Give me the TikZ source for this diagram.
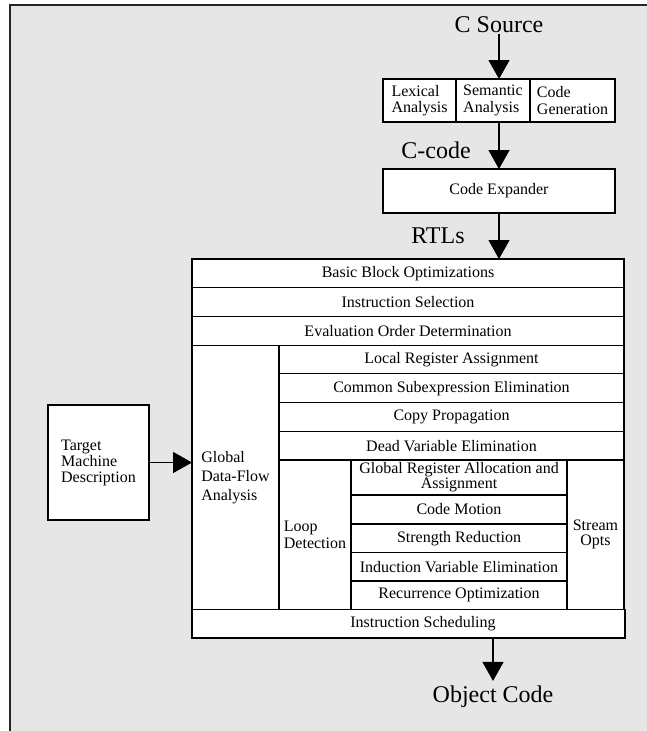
\documentclass[tikz,border=0pt]{standalone}
\usepackage{fontspec}
\setmainfont{Liberation Serif}
\usetikzlibrary{arrows.meta}
\definecolor{bggray}{RGB}{230,230,230}
\tikzset{
  cell/.style={draw=black, fill=white, line width=1.1pt, inner sep=0pt, outer sep=0pt,
    font=\fontsize{16}{17}\selectfont, align=center},
  bigtext/.style={font=\fontsize{24}{24}\selectfont, inner sep=1pt},
  arr/.style={-{Triangle[length=19pt,width=21pt]}, line width=1.4pt},
}
\begin{document}
\begin{tikzpicture}[x=1pt,y=-1pt]
\useasboundingbox (0,0) rectangle (647,731);
% frame
\fill[bggray] (10,5) rectangle (647,731);
\draw[line width=1.4pt, black!85] (647,5) -- (10,5) -- (10,731);

% front end
\node[cell, minimum width=73pt, minimum height=43pt, align=left, font=\fontsize{16}{16.5}\selectfont] (lex) at (419.5,100.5) {Lexical\\Analysis};
\node[cell, minimum width=74pt, minimum height=43pt, align=left, font=\fontsize{16}{16.5}\selectfont] (sem) at (493,100.5) {Semantic\\Analysis};
\node[cell, minimum width=85pt, minimum height=43pt, align=left, font=\fontsize{16}{16.5}\selectfont] (gen) at (572.5,100.5) {Code\\Generation};
\node[cell, minimum width=232pt, minimum height=44pt] (cexp) at (499,191) {Code Expander};

% labels
\node[bigtext] (csrc) at (499,25) {C Source};
\node[bigtext] (ccode) at (436,150) {C-code};
\node[bigtext] (rtls) at (438,236) {RTLs};
\node[bigtext] (obj) at (493,697) {Object Code};

% optimizer block
\node[cell, minimum width=432pt, minimum height=28.7pt] (bbo) at (408,273.35) {Basic Block Optimizations};
\node[cell, minimum width=432pt, minimum height=28.7pt] (isel) at (408,302.05) {Instruction Selection};
\node[cell, minimum width=432pt, minimum height=28.7pt] (eod) at (408,330.75) {Evaluation Order Determination};
\node[cell, minimum width=87pt, minimum height=264.4pt, align=left, font=\fontsize{16}{19}\selectfont] (gdf) at (235.5,477.3) {Global\\Data-Flow\\Analysis};
\node[cell, minimum width=345pt, minimum height=28.7pt] (lra) at (451.5,359.45) {Local Register Assignment};
\node[cell, minimum width=345pt, minimum height=28.7pt] (cse) at (451.5,388.15) {Common Subexpression Elimination};
\node[cell, minimum width=345pt, minimum height=28.7pt] (cp) at (451.5,416.85) {Copy Propagation};
\node[cell, minimum width=345pt, minimum height=28.8pt] (dve) at (451.5,445.6) {Dead Variable Elimination};
\node[cell, minimum width=72pt, minimum height=149.5pt, align=left, font=\fontsize{16}{17}\selectfont] (loop) at (315,534.75) {Loop\\Detection};
\node[cell, minimum width=216pt, minimum height=35pt, font=\fontsize{16}{14}\selectfont] (gra) at (459,477.5) {Global Register Allocation and\\Assignment};
\node[cell, minimum width=216pt, minimum height=29pt] (cm) at (459,509.5) {Code Motion};
\node[cell, minimum width=216pt, minimum height=28.5pt] (sr) at (459,538.25) {Strength Reduction};
\node[cell, minimum width=216pt, minimum height=28.5pt] (ive) at (459,566.75) {Induction Variable Elimination};
\node[cell, minimum width=216pt, minimum height=28.5pt] (ro) at (459,595.25) {Recurrence Optimization};
\node[cell, minimum width=57pt, minimum height=149.5pt, font=\fontsize{16}{15}\selectfont] (stream) at (595.5,534.75) {Stream\\Opts};
\node[cell, minimum width=433pt, minimum height=28.5pt] (isch) at (408.5,623.75) {\hspace*{29pt}Instruction Scheduling};

% target machine
\node[cell, minimum width=101pt, minimum height=115pt, align=left, font=\fontsize{16}{16}\selectfont] (tmd) at (98.5,462.5) {Target\\Machine\\Description};

% arrows
\draw[arr] (csrc.south) -- (csrc.south |- sem.north);
\draw[arr] (cexp.north |- sem.south) -- (cexp.north);
\draw[arr] (cexp.south) -- (cexp.south |- bbo.north);
\draw[arr] (tmd.east) -- (tmd.east -| gdf.west);
\draw[arr, shorten >=4pt] (obj.north |- isch.south) -- (obj.north);
\end{tikzpicture}
\end{document}
